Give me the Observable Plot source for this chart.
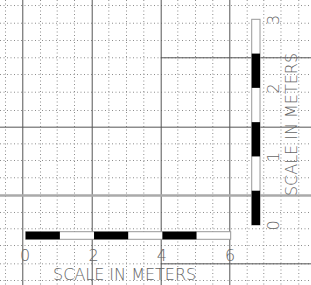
<!DOCTYPE html>
<html>
<head>
<meta charset="utf-8">
<script src="https://cdn.jsdelivr.net/npm/d3@7"></script>
<script src="https://cdn.jsdelivr.net/npm/@observablehq/plot@0.6"></script>
<style>
  html, body { margin: 0; padding: 0; background: #fff; }
  #chart svg { display: block; }
</style>
</head>
<body>
<div id="chart"></div>
<script>
// Horizontal scale in meters (x), vertical scale in meters (y)
const hBlackSegments = [[0, 1], [2, 3], [4, 5]];
const hTickLabels = [0, 2, 4, 6];
const vBlackSegments = [[0, 0.5], [1, 1.5], [2, 2.5]];
const vTickLabels = [0, 1, 2, 3];
const scaleTitle = "SCALE IN METERS";

// Background drawing grid, expressed in the same meter units
const gridMajorX = [-0.1, 1.932, 3.951, 5.959];
const gridMinorX = [-0.606, 0.419, 0.907, 1.414, 2.418, 2.936, 3.442, 4.437, 4.955, 5.461, 6.468, 6.954, 7.457, 7.978];
const gridMajorYFull = [1.434];
const gridMajorYLight = [0.4375];
const gridMajorYPartial = [2.446, -0.559];
const gridMinorY = [3.208, 2.950, 2.698, 2.446, 2.202, 1.944, 1.677, 1.191, 0.948, 0.696, 0.190, -0.048, -0.292, -0.559, -0.802];

const FONT = "'DejaVu Sans', sans-serif";
const TXT = "#666";
const DOT = "#8c8c8c";
const FS = 16;

// geometry constants (in meters on each scale)
const hBarY = [-0.0977, -0.2085];   // horizontal bar band
const vBarX = [6.615, 6.858];       // vertical bar band
const hLabelY = -0.44;
const hTitle = {x: 2.88, y: -0.715};
const vLabelX = 7.25;
const vTitle = {x: 7.79, y: 1.473};
const partialStart = 3.951, rightEdge = 8.4;

const plot = Plot.plot({
  width: 311,
  height: 285,
  margin: 0,
  style: {background: "#fff", overflow: "hidden"},
  x: {domain: [0, 6], range: [25.7, 230.7], axis: null},
  y: {domain: [0, 3], range: [225, 19.3], axis: null},
  marks: [
    // dotted minor grid
    Plot.ruleX(gridMinorX, {x: d => d, stroke: DOT, strokeWidth: 1, strokeDasharray: "1,2.5"}),
    Plot.ruleY(gridMinorY, {y: d => d, stroke: DOT, strokeWidth: 1, strokeDasharray: "1,2.5"}),
    // major grid
    Plot.ruleX(gridMajorX, {x: d => d, stroke: "#555", strokeWidth: 1}),
    Plot.ruleY(gridMajorYFull, {y: d => d, stroke: "#555", strokeWidth: 1}),
    Plot.ruleY(gridMajorYLight, {y: d => d, stroke: "#aaa", strokeWidth: 2.5}),
    Plot.ruleY(gridMajorYPartial, {y: d => d, x1: partialStart, x2: rightEdge, stroke: "#555", strokeWidth: 1}),

    // horizontal scale bar
    Plot.rect([[0, 6]], {x1: d => d[0], x2: d => d[1], y1: hBarY[0], y2: hBarY[1], fill: "#fff", stroke: "#999", strokeWidth: 1}),
    Plot.rect(hBlackSegments, {x1: d => d[0], x2: d => d[1], y1: hBarY[0], y2: hBarY[1], fill: "#000"}),
    Plot.text(hTickLabels, {x: d => d, y: hLabelY, text: d => String(d), dx: -1, fill: TXT, fontSize: FS, fontFamily: FONT, fontWeight: 200}),
    Plot.text([scaleTitle], {x: hTitle.x, y: hTitle.y, text: d => d, fill: TXT, fontSize: FS, fontFamily: FONT, fontWeight: 200}),

    // vertical scale bar
    Plot.rect([[0, 3]], {y1: d => d[0], y2: d => d[1], x1: vBarX[0], x2: vBarX[1], fill: "#fff", stroke: "#999", strokeWidth: 1}),
    Plot.rect(vBlackSegments, {y1: d => d[0], y2: d => d[1], x1: vBarX[0], x2: vBarX[1], fill: "#000"}),
    Plot.text(vTickLabels, {y: d => d, x: vLabelX, text: d => String(d), rotate: -90, fill: TXT, fontSize: FS, fontFamily: FONT, fontWeight: 200}),
    Plot.text([scaleTitle], {x: vTitle.x, y: vTitle.y, text: d => d, rotate: -90, fill: TXT, fontSize: FS, fontFamily: FONT, fontWeight: 200})
  ]
});

document.getElementById("chart").appendChild(plot);
</script>
</body>
</html>
